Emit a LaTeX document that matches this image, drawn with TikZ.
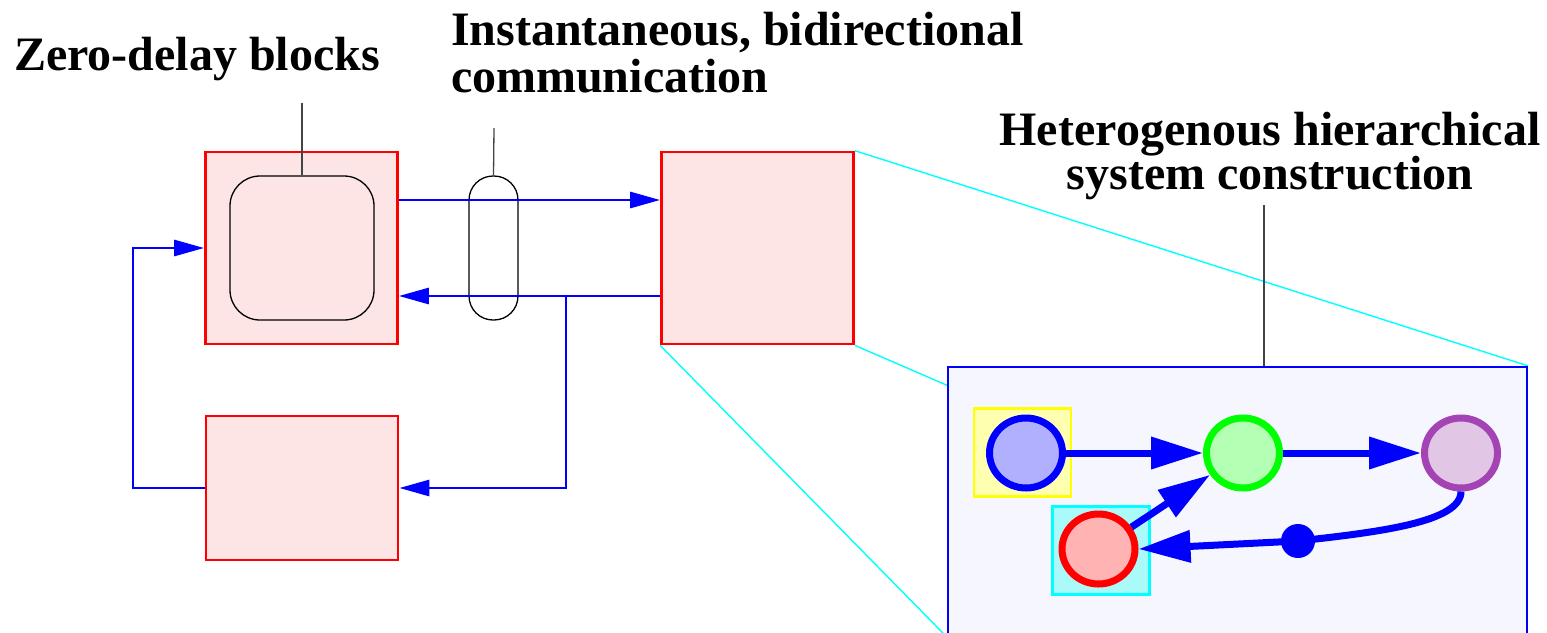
\documentclass[tikz,border=0pt]{standalone}
\usepackage{fontspec}
\setmainfont{Liberation Serif}
\usetikzlibrary{arrows.meta,shapes.geometric,backgrounds}

\definecolor{blockfill}{HTML}{FDE5E5}
\definecolor{panelfill}{HTML}{F5F6FE}
\definecolor{wireblue}{HTML}{0000FF}
\definecolor{pureyellow}{HTML}{FFFF00}
\definecolor{yellowfill}{HTML}{FFFFB0}
\definecolor{purecyan}{HTML}{00FFFF}
\definecolor{cyanfill}{HTML}{AAFAFA}
\definecolor{bluefill}{HTML}{B0B0FF}
\definecolor{puregreen}{HTML}{00FF00}
\definecolor{greenfill}{HTML}{B3FFB3}
\definecolor{purpleline}{HTML}{A443B4}
\definecolor{purplefill}{HTML}{E2C6E6}
\definecolor{purered}{HTML}{FF0000}
\definecolor{redfill}{HTML}{FFB3B3}
\definecolor{leadergray}{HTML}{444444}

\begin{document}
\begin{tikzpicture}[x=1pt,y=-1pt,
  caption/.style={font=\fontsize{48}{48}\selectfont\bfseries, inner sep=0pt, outer sep=0pt},
  block/.style={rectangle, draw=purered, fill=blockfill, line width=2.7pt, inner sep=0pt,
    minimum width=192pt, minimum height=192pt},
  wire/.style={draw=wireblue, line width=2.8pt, -{Triangle[length=30pt,width=16pt]}},
  leader/.style={draw=leadergray, line width=1.3pt},
  zoomline/.style={draw=purecyan, line width=1.4pt},
  tag/.style={rectangle, line width=2.7pt, inner sep=0pt},
  actor/.style={ellipse, line width=7pt, inner sep=0pt, minimum width=73pt, minimum height=70pt},
  flow/.style={draw=wireblue, line width=7pt, -{Triangle[length=52pt,width=31pt]}}
]
\useasboundingbox (0,0) rectangle (1547,632);

% captions
\node[caption, anchor=base west] (zlabel) at (14,70) {Zero-delay blocks};
\node[caption, anchor=base west] (ilabel1) at (451,45) {Instantaneous, bidirectional};
\node[caption, anchor=base west] (ilabel2) at (451,92) {communication};
\node[caption, anchor=base] (hlabel1) at (1270,145) {Heterogenous hierarchical};
\node[caption, anchor=base] (hlabel2) at (1270,189) {system construction};

% blocks
\node[block] (A) at (301.5,248) {};
\node[block] (B) at (757.5,248) {};
\node[block, minimum height=144pt] (C) at (302,488) {};
\node[draw=black, line width=1.3pt, rounded corners=30pt, inner sep=0pt,
      minimum width=144pt, minimum height=144pt] (core) at (302,248) {};
\node[draw=black, line width=1.3pt, rounded corners=24pt, inner sep=0pt,
      minimum width=49pt, minimum height=144pt] (pipe) at (493.5,248) {};

% leader lines
\coordinate (zfoot) at (302,103);
\coordinate (ifoot) at (494,128);
\draw[leader] (zfoot) -- (core.north);
\draw[leader] (ifoot) -- (pipe.north);

% connections between blocks
\draw[wire] ([yshift=48pt]A.east) -- ([yshift=48pt]B.west);
\draw[wire] ([yshift=-48pt]B.west) -- ([yshift=-48pt]A.east);
\coordinate (tap) at (566,296);
\draw[wire] (tap) |- (C.east);
\coordinate (loop) at (133,0);
\draw[wire] (C.west) -- (C.west -| loop) -- (A.west -| loop) -- (A.west);

% zoomed-in subsystem
\node[rectangle, draw=wireblue, fill=panelfill, line width=2.2pt, inner sep=0pt,
      minimum width=579pt, minimum height=269pt] (big) at (1237.5,501.5) {};
\begin{scope}[on background layer]
  \draw[zoomline] (B.north east) -- (big.north east);
  \draw[zoomline] (B.south east) -- (big.south east);
  \draw[zoomline] (B.south west) -- (big.south west);
\end{scope}
\coordinate (hfoot) at (1264,205);
\draw[leader] (hfoot) -- (hfoot |- big.north);

\node[tag, draw=pureyellow, fill=yellowfill, minimum width=97pt, minimum height=88pt] (ytag) at (1022.5,452.5) {};
\node[tag, draw=purecyan, fill=cyanfill, minimum width=97pt, minimum height=88pt] (ctag) at (1101,550.5) {};

\node[actor, draw=wireblue, fill=bluefill] (n1) at (1026,453) {};
\node[actor, draw=puregreen, fill=greenfill] (n2) at (1243,453) {};
\node[actor, draw=purpleline, fill=purplefill] (n3) at (1461,453) {};
\node[actor, draw=purered, fill=redfill] (n4) at (1098.5,549) {};
\node[circle, fill=wireblue, inner sep=0pt, minimum size=34pt] (dot) at (1298,541) {};

\draw[flow] (n1) -- (n2);
\draw[flow] (n2) -- (n3);
\draw[flow] (n4) -- (n2);
\draw[flow] (n3.south) .. controls (1461,522) and (1380,532) .. (dot.center) -- (n4.east);
\end{tikzpicture}
\end{document}
